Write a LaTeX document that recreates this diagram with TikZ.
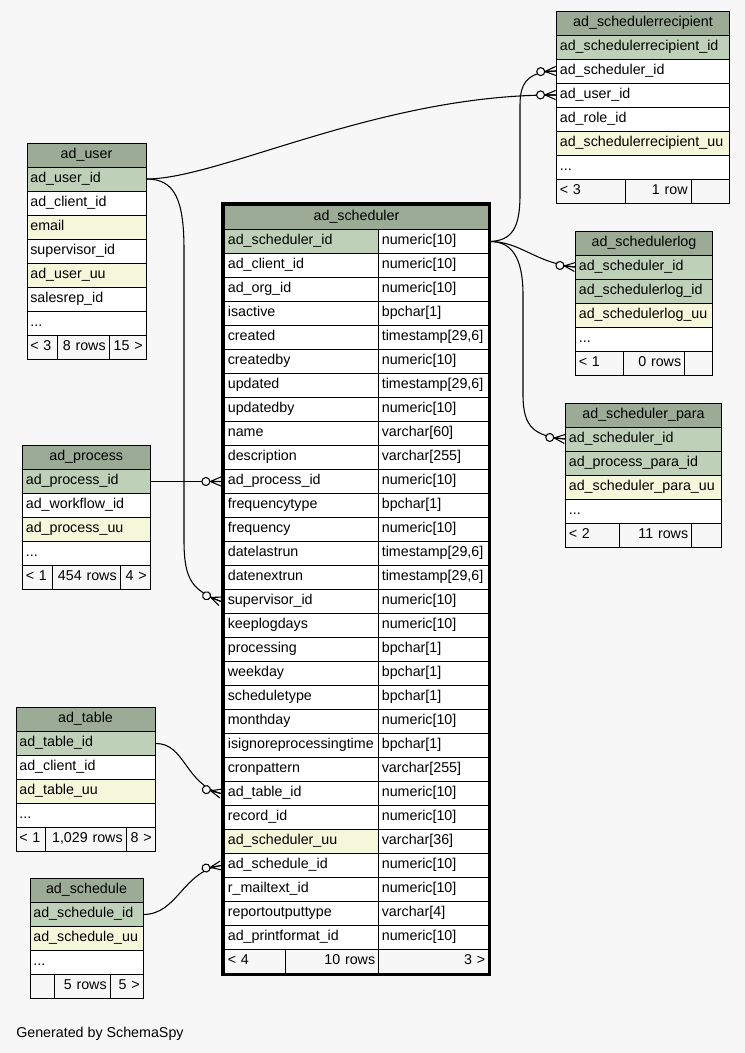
\documentclass[tikz,border=0pt]{standalone}
\usepackage{fontspec}
\setmainfont{Liberation Sans}
\usetikzlibrary{decorations.markings}

\definecolor{hdrfill}{HTML}{9BAB96}
\definecolor{keyfill}{HTML}{BED1B8}
\definecolor{idxfill}{HTML}{F4F7DA}
\definecolor{bgfill}{HTML}{F7F7F7}
\newcommand{\moredots}{...}

\begin{document}
\hyphenpenalty=10000
\begin{tikzpicture}[x=0.75pt, y=-0.75pt, font=\fontsize{10.7}{12}\selectfont]
	\tikzset{cell/.style={draw, line width=0.75pt, anchor=north west, fill=white,
			minimum height=18pt, inner xsep=2.5pt, inner ysep=0pt,
			text height=7.6pt, text depth=2.4pt, align=left},
		cw/.code={\pgfmathsetlengthmacro\cellw{#1*0.75pt-5pt}\pgfkeysalso{text width=\cellw}},
		head/.style={cell, fill=hdrfill, align=center},
		foot/.style={cell, fill=bgfill},
		crowodot/.style={postaction={decorate, decoration={markings,
			mark=at position 0.999 with {
				\draw[line width=0.8pt] (-8pt,0) -- (0,3.4pt) (-8pt,0) -- (0,0) (-8pt,0) -- (0,-3.4pt);
				\draw[line width=0.8pt, fill=bgfill] (-11.3pt,0) circle (3pt);}}}},
		fklink/.style={line width=0.8pt, crowodot}}
	\useasboundingbox[fill=bgfill] (0,0) rectangle (745,1053);

	% ad_scheduler
	\node[head, cw=264] (sch-h) at (224,205) {ad\_scheduler};
	\foreach \col/\typ/\fc [count=\i from 0] in {
			ad\_scheduler\_id/numeric[10]/keyfill, ad\_client\_id/numeric[10]/white,
			ad\_org\_id/numeric[10]/white, isactive/bpchar[1]/white,
			created/{timestamp[29,6]}/white, createdby/numeric[10]/white,
			updated/{timestamp[29,6]}/white, updatedby/numeric[10]/white,
			name/varchar[60]/white, description/varchar[255]/white,
			ad\_process\_id/numeric[10]/white, frequencytype/bpchar[1]/white,
			frequency/numeric[10]/white, datelastrun/{timestamp[29,6]}/white,
			datenextrun/{timestamp[29,6]}/white, supervisor\_id/numeric[10]/white,
			keeplogdays/numeric[10]/white, processing/bpchar[1]/white,
			weekday/bpchar[1]/white, scheduletype/bpchar[1]/white,
			monthday/numeric[10]/white, isignoreprocessingtime/bpchar[1]/white,
			cronpattern/varchar[255]/white, ad\_table\_id/numeric[10]/white,
			record\_id/numeric[10]/white, ad\_scheduler\_uu/varchar[36]/idxfill,
			ad\_schedule\_id/numeric[10]/white, r\_mailtext\_id/numeric[10]/white,
			reportoutputtype/varchar[4]/white, ad\_printformat\_id/numeric[10]/white}
		{
			\node[cell, cw=154, fill=\fc] (sch-\i) at (224,229+24*\i) {\col};
			\node[cell, cw=110] (scht-\i) at (378,229+24*\i) {\typ};
		}
	\node[foot, cw=61] (sch-f1) at (224,949) {< 4};
	\node[foot, cw=93, align=right] (sch-f2) at (285,949) {10 rows};
	\node[foot, cw=110, align=right] (sch-f3) at (378,949) {3 >};
	\draw[line width=2.25pt] (222,203.5) rectangle (489.5,974.5);

	% ad_user
	\node[head, cw=119] (user-h) at (26.5,142.5) {ad\_user};
	\foreach \col/\fc [count=\i] in {ad\_user\_id/keyfill, ad\_client\_id/white,
			email/idxfill, supervisor\_id/white, ad\_user\_uu/idxfill,
			salesrep\_id/white, \moredots/white}
		\node[cell, cw=119, fill=\fc] (user-\i) at (26.5,142.5+24*\i) {\col};
	\node[foot, cw=30] (user-f1) at (26.5,334.5) {< 3};
	\node[foot, cw=52, align=right] (user-f2) at (56.5,334.5) {8 rows};
	\node[foot, cw=37, align=right] (user-f3) at (108.5,334.5) {15 >};

	% ad_schedulerrecipient
	\node[head, cw=173] (rcpt-h) at (556,10.5) {ad\_schedulerrecipient};
	\foreach \col/\fc [count=\i] in {ad\_schedulerrecipient\_id/keyfill,
			ad\_scheduler\_id/white, ad\_user\_id/white, ad\_role\_id/white,
			ad\_schedulerrecipient\_uu/idxfill, \moredots/white}
		\node[cell, cw=173, fill=\fc] (rcpt-\i) at (556,10.5+24*\i) {\col};
	\node[foot, cw=69] (rcpt-f1) at (556,178.5) {< 3};
	\node[foot, cw=65.5, align=right] (rcpt-f2) at (625,178.5) {1 row};
	\node[foot, cw=38.5] (rcpt-f3) at (690.5,178.5) {};

	% ad_schedulerlog
	\node[head, cw=137] (log-h) at (575,230.5) {ad\_schedulerlog};
	\foreach \col/\fc [count=\i] in {ad\_scheduler\_id/keyfill,
			ad\_schedulerlog\_id/keyfill, ad\_schedulerlog\_uu/idxfill, \moredots/white}
		\node[cell, cw=137, fill=\fc] (log-\i) at (575,230.5+24*\i) {\col};
	\node[foot, cw=47.5] (log-f1) at (575,350.5) {< 1};
	\node[foot, cw=61.5, align=right] (log-f2) at (622.5,350.5) {0 rows};
	\node[foot, cw=28] (log-f3) at (684,350.5) {};

	% ad_scheduler_para
	\node[head, cw=156] (para-h) at (565,402.5) {ad\_scheduler\_para};
	\foreach \col/\fc [count=\i] in {ad\_scheduler\_id/keyfill,
			ad\_process\_para\_id/keyfill, ad\_scheduler\_para\_uu/idxfill, \moredots/white}
		\node[cell, cw=156, fill=\fc] (para-\i) at (565,402.5+24*\i) {\col};
	\node[foot, cw=53.5] (para-f1) at (565,522.5) {< 2};
	\node[foot, cw=72.5, align=right] (para-f2) at (618.5,522.5) {11 rows};
	\node[foot, cw=30] (para-f3) at (691,522.5) {};

	% ad_process
	\node[head, cw=127.5] (proc-h) at (22,445) {ad\_process};
	\foreach \col/\fc [count=\i] in {ad\_process\_id/keyfill,
			ad\_workflow\_id/white, ad\_process\_uu/idxfill, \moredots/white}
		\node[cell, cw=127.5, fill=\fc] (proc-\i) at (22,445+24*\i) {\col};
	\node[foot, cw=30] (proc-f1) at (22,565) {< 1};
	\node[foot, cw=67.5, align=right] (proc-f2) at (52,565) {454 rows};
	\node[foot, cw=30, align=right] (proc-f3) at (119.5,565) {4 >};

	% ad_table
	\node[head, cw=139] (tab-h) at (15.5,707) {ad\_table};
	\foreach \col/\fc [count=\i] in {ad\_table\_id/keyfill,
			ad\_client\_id/white, ad\_table\_uu/idxfill, \moredots/white}
		\node[cell, cw=139, fill=\fc] (tab-\i) at (15.5,707+24*\i) {\col};
	\node[foot, cw=29.5] (tab-f1) at (15.5,827) {< 1};
	\node[foot, cw=80.5, align=right] (tab-f2) at (45,827) {1,029 rows};
	\node[foot, cw=29, align=right] (tab-f3) at (125.5,827) {8 >};

	% ad_schedule
	\node[head, cw=113] (sdl-h) at (29.5,878) {ad\_schedule};
	\foreach \col/\fc [count=\i] in {ad\_schedule\_id/keyfill,
			ad\_schedule\_uu/idxfill, \moredots/white}
		\node[cell, cw=113, fill=\fc] (sdl-\i) at (29.5,878+24*\i) {\col};
	\node[foot, cw=24] (sdl-f1) at (29.5,974) {};
	\node[foot, cw=56, align=right] (sdl-f2) at (53.5,974) {5 rows};
	\node[foot, cw=33, align=right] (sdl-f3) at (109.5,974) {5 >};

	% foreign keys
	\draw[fklink] (user-1.east) .. controls (220,179) and (380,94) .. (rcpt-3.west);
	\draw[fklink] (user-1.east) .. controls (175,179) and (184,200) .. (184,250)
		-- (184,540) .. controls (184,580) and (192,590) .. ([xshift=-2.25pt]sch-15.west);
	\draw[fklink] (proc-1.east) -- ([xshift=-2.25pt]sch-10.west);
	\draw[fklink] (tab-1.east) .. controls (185,743) and (185,784) .. ([xshift=-2.25pt]sch-23.west);
	\draw[fklink] (sdl-1.east) .. controls (178,914) and (182,872) .. ([xshift=-2.25pt]sch-26.west);
	\draw[fklink] (scht-0.east) .. controls (512,241) and (520,228) .. (520,195)
		-- (520,105) .. controls (520,80) and (530,72) .. (rcpt-2.west);
	\draw[fklink] (scht-0.east) .. controls (520,241) and (535,263) .. (log-1.west);
	\draw[fklink] (scht-0.east) .. controls (512,241) and (523,258) .. (523,295)
		-- (523,395) .. controls (523,428) and (535,436) .. (para-1.west);

	\node[anchor=base west, inner sep=0pt] (credit) at (16,1037) {Generated by SchemaSpy};
\end{tikzpicture}
\end{document}
